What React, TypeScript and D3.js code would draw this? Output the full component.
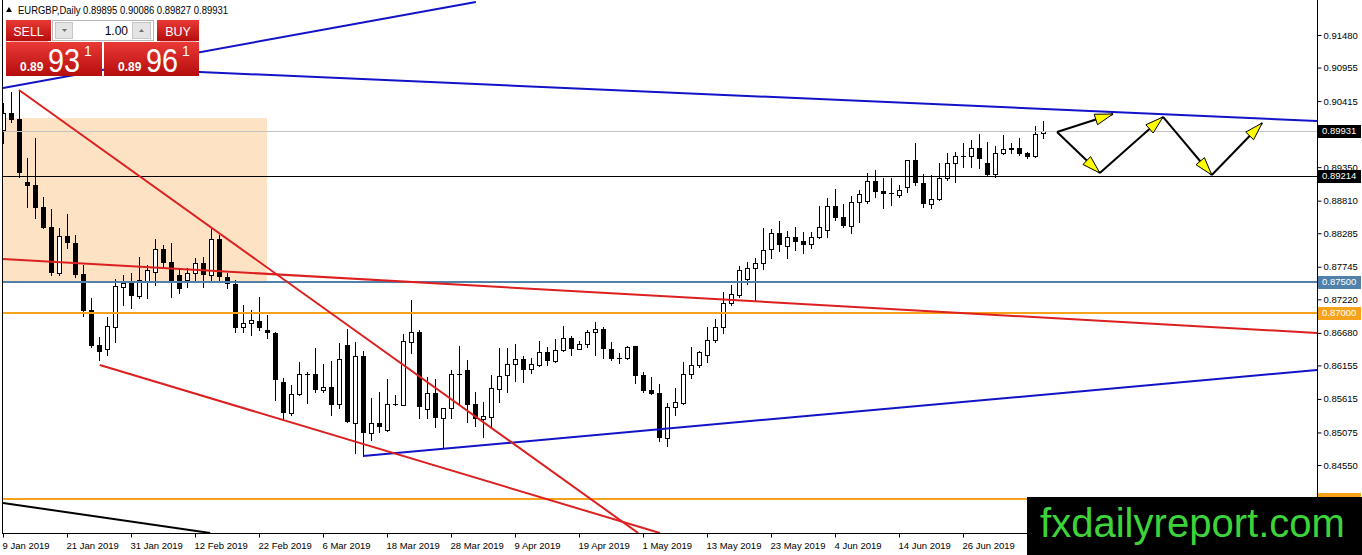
"use client";

import { useRef, useEffect } from "react";
import * as d3 from "d3";

// daily bars, 9 Jan 2019 .. 10 Jul 2019 : [open, high, low, close]
const candles: [number, number, number, number][] = [
  [0.89949, 0.90384, 0.8974, 0.90223],
  [0.90223, 0.90562, 0.90078, 0.9011],
  [0.90126, 0.90594, 0.89191, 0.89256],
  [0.89111, 0.89498, 0.88708, 0.89046],
  [0.89062, 0.8982, 0.88531, 0.88692],
  [0.88708, 0.88869, 0.88365, 0.8837],
  [0.88386, 0.88676, 0.87612, 0.87645],
  [0.87645, 0.8837, 0.87612, 0.8824],
  [0.8824, 0.88596, 0.88047, 0.88128],
  [0.88128, 0.88256, 0.8758, 0.87612],
  [0.87629, 0.87773, 0.86951, 0.87032],
  [0.87048, 0.87241, 0.86452, 0.86468],
  [0.86484, 0.86613, 0.86242, 0.86371],
  [0.8642, 0.86935, 0.86322, 0.8679],
  [0.86774, 0.87548, 0.86533, 0.87435],
  [0.87419, 0.87612, 0.87128, 0.87484],
  [0.875, 0.87645, 0.8708, 0.87273],
  [0.87273, 0.87902, 0.87241, 0.87532],
  [0.87516, 0.87773, 0.87241, 0.87693],
  [0.87661, 0.88192, 0.87451, 0.88031],
  [0.88031, 0.88095, 0.87725, 0.87806],
  [0.87822, 0.88128, 0.87257, 0.875],
  [0.87612, 0.87725, 0.87322, 0.87387],
  [0.87532, 0.87725, 0.87419, 0.87645],
  [0.87645, 0.87886, 0.87532, 0.87806],
  [0.87806, 0.87902, 0.87419, 0.87612],
  [0.87612, 0.88354, 0.87532, 0.88192],
  [0.88192, 0.88256, 0.87532, 0.8758],
  [0.8758, 0.87645, 0.87403, 0.87468],
  [0.87468, 0.87532, 0.86694, 0.86758],
  [0.86774, 0.87128, 0.86694, 0.86839],
  [0.86839, 0.87048, 0.86645, 0.86887],
  [0.86871, 0.87257, 0.86726, 0.86758],
  [0.86726, 0.86967, 0.86597, 0.86677],
  [0.86677, 0.8669, 0.85598, 0.8592],
  [0.85888, 0.85952, 0.85275, 0.85388],
  [0.85388, 0.85839, 0.85355, 0.85695],
  [0.85695, 0.8621, 0.85678, 0.86017],
  [0.86017, 0.86049, 0.8555, 0.86001],
  [0.86017, 0.86436, 0.85727, 0.85759],
  [0.85759, 0.86178, 0.85727, 0.85807],
  [0.85807, 0.86226, 0.85355, 0.85517],
  [0.85534, 0.86516, 0.85469, 0.86258],
  [0.86484, 0.86742, 0.85235, 0.85243],
  [0.85227, 0.86533, 0.84744, 0.86306],
  [0.86306, 0.86387, 0.84695, 0.85066],
  [0.85066, 0.8563, 0.84953, 0.85227],
  [0.85227, 0.85727, 0.85082, 0.85162],
  [0.85114, 0.85936, 0.85105, 0.85534],
  [0.85534, 0.85678, 0.85517, 0.8553],
  [0.85517, 0.86662, 0.8551, 0.86549],
  [0.86533, 0.87209, 0.86355, 0.86694],
  [0.86694, 0.86726, 0.85307, 0.85485],
  [0.85453, 0.85968, 0.85307, 0.85711],
  [0.85711, 0.85936, 0.85162, 0.85307],
  [0.85307, 0.85475, 0.8484, 0.85469],
  [0.85469, 0.86081, 0.85307, 0.86017],
  [0.86017, 0.86468, 0.85517, 0.8602],
  [0.86081, 0.86242, 0.85243, 0.85517],
  [0.85534, 0.85727, 0.85178, 0.85291],
  [0.85291, 0.85566, 0.85001, 0.85339],
  [0.85323, 0.86001, 0.85162, 0.85791],
  [0.85775, 0.86436, 0.85566, 0.85984],
  [0.86001, 0.86436, 0.85727, 0.86178],
  [0.86178, 0.86501, 0.85904, 0.86258],
  [0.86258, 0.86306, 0.85888, 0.86081],
  [0.86097, 0.86274, 0.86033, 0.86178],
  [0.86161, 0.86549, 0.86145, 0.86371],
  [0.86371, 0.86452, 0.86161, 0.86226],
  [0.86226, 0.86581, 0.8621, 0.86403],
  [0.86403, 0.8679, 0.86395, 0.86597],
  [0.86597, 0.86629, 0.86322, 0.8642],
  [0.8642, 0.86549, 0.86412, 0.86501],
  [0.86501, 0.86726, 0.86452, 0.86694],
  [0.86694, 0.86855, 0.86322, 0.86742],
  [0.86742, 0.86774, 0.86274, 0.8642],
  [0.8642, 0.86533, 0.86242, 0.86258],
  [0.86274, 0.86355, 0.86194, 0.8627],
  [0.86274, 0.86468, 0.86265, 0.86452],
  [0.86468, 0.8647, 0.85872, 0.85984],
  [0.86001, 0.86049, 0.85727, 0.85743],
  [0.85759, 0.85968, 0.8569, 0.85695],
  [0.85711, 0.85856, 0.84937, 0.84985],
  [0.84985, 0.8555, 0.84856, 0.85485],
  [0.85485, 0.85791, 0.85355, 0.85566],
  [0.8555, 0.8621, 0.8554, 0.86017],
  [0.86017, 0.86452, 0.85952, 0.86161],
  [0.86161, 0.86387, 0.86129, 0.86371],
  [0.86322, 0.86774, 0.8621, 0.86565],
  [0.86565, 0.86903, 0.86533, 0.86774],
  [0.86774, 0.87338, 0.86677, 0.87161],
  [0.87161, 0.87451, 0.87128, 0.87306],
  [0.87289, 0.87757, 0.87257, 0.87693],
  [0.87548, 0.87822, 0.87468, 0.87725],
  [0.87725, 0.87886, 0.87209, 0.87806],
  [0.87806, 0.8837, 0.87709, 0.88015],
  [0.88031, 0.88354, 0.87886, 0.88289],
  [0.88289, 0.88483, 0.87999, 0.88095],
  [0.88079, 0.88321, 0.87886, 0.88224],
  [0.88224, 0.88386, 0.88015, 0.88144],
  [0.8816, 0.88305, 0.87967, 0.88095],
  [0.88112, 0.88305, 0.88047, 0.88224],
  [0.88224, 0.88724, 0.88215, 0.88386],
  [0.88337, 0.88853, 0.88224, 0.88724],
  [0.88724, 0.88998, 0.88499, 0.88531],
  [0.88547, 0.88756, 0.88386, 0.88402],
  [0.88402, 0.88885, 0.88289, 0.88789],
  [0.88789, 0.88982, 0.88467, 0.88918],
  [0.88805, 0.89256, 0.88772, 0.89127],
  [0.89127, 0.89304, 0.88869, 0.8895],
  [0.88966, 0.89175, 0.88692, 0.88918],
  [0.88934, 0.89175, 0.8874, 0.88918],
  [0.88902, 0.89062, 0.88869, 0.88982],
  [0.8903, 0.8947, 0.8895, 0.89465],
  [0.89465, 0.8974, 0.89062, 0.89095],
  [0.89095, 0.8924, 0.88708, 0.88756],
  [0.88756, 0.89224, 0.88692, 0.88837],
  [0.88837, 0.89417, 0.88821, 0.89175],
  [0.89175, 0.89578, 0.89143, 0.89417],
  [0.89417, 0.89594, 0.89111, 0.8953],
  [0.8953, 0.8974, 0.89352, 0.89535],
  [0.8953, 0.89788, 0.89352, 0.89659],
  [0.89659, 0.89885, 0.89336, 0.89482],
  [0.89417, 0.89756, 0.89207, 0.89224],
  [0.8924, 0.89691, 0.89191, 0.89578],
  [0.89578, 0.89868, 0.8957, 0.89643],
  [0.89659, 0.8974, 0.89578, 0.89627],
  [0.89659, 0.8982, 0.89546, 0.89562],
  [0.89578, 0.89594, 0.89505, 0.89514],
  [0.8953, 0.90013, 0.89514, 0.89885],
  [0.89895, 0.90086, 0.89827, 0.89931],
];

const dateTickBars = [0, 8, 16, 24, 32, 40, 48, 56, 64, 72, 80, 88, 96, 104, 112, 120];
const dateLabels = [
  "9 Jan 2019", "21 Jan 2019", "31 Jan 2019", "12 Feb 2019", "22 Feb 2019",
  "6 Mar 2019", "18 Mar 2019", "28 Mar 2019", "9 Apr 2019", "19 Apr 2019",
  "1 May 2019", "13 May 2019", "23 May 2019", "4 Jun 2019", "14 Jun 2019", "26 Jun 2019",
];

const priceTicks = [
  0.9148, 0.90955, 0.90415, 0.8935, 0.8881, 0.88285, 0.87745,
  0.8722, 0.8668, 0.86155, 0.85615, 0.85075, 0.8455,
];

// horizontal levels
const bidPrice = 0.89931;
const supportLevel = 0.89214;
const blueLevel = 0.875;
const orangeLevels = [0.87, 0.84];

// shaded zone: bar range, price range
const zoneBars = [-1, 33];
const zonePrices = [0.90142, 0.875];

// trend lines: [bar, price] anchors
const blueUpperChannel: [number, number][] = [[0, 0.90626], [59.1, 0.92012]];
const blueResistance: [number, number][] = [[14, 0.90945], [164.25, 0.90094]];
const blueSupport: [number, number][] = [[45, 0.84695], [164.25, 0.86081]];
const redSteep: [number, number][] = [[2, 0.90594], [79.4, 0.83454]];
const redLower: [number, number][] = [[12.1, 0.86162], [82.1, 0.83454]];
const redLong: [number, number][] = [[0, 0.8787], [164.25, 0.86678]];
const blackBottom: [number, number][] = [[0, 0.83938], [25.9, 0.83454]];

// forecast arrows
const forecastZigzag: [number, number][] = [
  [131.75, 0.89917], [137.1, 0.89256], [145, 0.90159], [151.1, 0.89224], [157.4, 0.90062],
];
const forecastBreakout: [number, number][] = [[131.75, 0.89917], [138.75, 0.90207]];

export default function App() {
  const svgRef = useRef<SVGSVGElement>(null);

  useEffect(() => {
    document.body.style.margin = "0";
    if (!svgRef.current) return;

    const svg = d3.select(svgRef.current);
    svg.selectAll("*").remove();

    const width = 1362;
    const height = 555;
    const plot = { left: 3, right: 1317, top: 0, bottom: 533 };
    const font = "'Liberation Sans', Arial, sans-serif";

    svg.attr("width", width).attr("height", height).attr("viewBox", `0 0 ${width} ${height}`);

    const x = d3.scaleLinear().domain([0, 164.25]).range([plot.left, plot.right]);
    const y = d3.scaleLinear().domain([0.9148, 0.8455]).range([35, 465]);

    svg.append("rect").attr("width", width).attr("height", height).attr("fill", "#ffffff");

    const defs = svg.append("defs");
    defs
      .append("clipPath")
      .attr("id", "plot-clip")
      .append("rect")
      .attr("x", plot.left)
      .attr("y", plot.top)
      .attr("width", plot.right - plot.left)
      .attr("height", plot.bottom - plot.top);
    const grad = defs
      .append("linearGradient")
      .attr("id", "red-btn")
      .attr("x1", 0)
      .attr("y1", 0)
      .attr("x2", 0)
      .attr("y2", 1);
    grad.append("stop").attr("offset", "0%").attr("stop-color", "#ea3a36");
    grad.append("stop").attr("offset", "100%").attr("stop-color", "#b50d0d");

    const g = svg.append("g").attr("clip-path", "url(#plot-clip)");

    // Zone
    g.append("rect")
      .attr("x", x(zoneBars[0]))
      .attr("y", y(zonePrices[0]))
      .attr("width", x(zoneBars[1]) - x(zoneBars[0]))
      .attr("height", y(zonePrices[1]) - y(zonePrices[0]))
      .attr("fill", "#fde2c4");

    // Candles
    const cg = g.append("g").attr("shape-rendering", "crispEdges");
    cg.selectAll("line")
      .data(candles)
      .join("line")
      .attr("x1", (_, i) => x(i) + 0.5)
      .attr("x2", (_, i) => x(i) + 0.5)
      .attr("y1", (d) => Math.round(y(d[1])))
      .attr("y2", (d) => Math.round(y(d[2])) + 1)
      .attr("stroke", "#000");

    cg.selectAll("rect")
      .data(candles)
      .join("rect")
      .each(function (d, i) {
        const up = d[3] >= d[0];
        const top = Math.round(y(Math.max(d[0], d[3])));
        const bot = Math.round(y(Math.min(d[0], d[3])));
        const r = d3.select(this);
        if (up) {
          r.attr("x", x(i) - 1.5)
            .attr("y", top + 0.5)
            .attr("width", 4)
            .attr("height", Math.max(bot - top, 0.01))
            .attr("fill", "#ffffff")
            .attr("stroke", "#000");
        } else {
          r.attr("x", x(i) - 2)
            .attr("y", top)
            .attr("width", 5)
            .attr("height", Math.max(bot - top, 1))
            .attr("fill", "#000");
        }
      });

    // Horizontal levels
    const hline = (price: number, color: string, w: number) =>
      g.append("line")
        .attr("x1", plot.left)
        .attr("x2", plot.right)
        .attr("y1", Math.round(y(price)) + (w % 2 ? 0.5 : 0))
        .attr("y2", Math.round(y(price)) + (w % 2 ? 0.5 : 0))
        .attr("stroke", color)
        .attr("stroke-width", w);

    hline(bidPrice, "#c3c3c3", 1);
    hline(supportLevel, "#000000", 1);
    hline(blueLevel, "#4f81aa", 2);
    orangeLevels.forEach((p) => hline(p, "#f7a21b", 2));

    // Trend lines
    const trend = (pts: [number, number][], color: string) =>
      g.append("line")
        .attr("x1", x(pts[0][0]))
        .attr("y1", y(pts[0][1]))
        .attr("x2", x(pts[1][0]))
        .attr("y2", y(pts[1][1]))
        .attr("stroke", color)
        .attr("stroke-width", 2);

    trend(blueUpperChannel, "#1212c8");
    trend(blueResistance, "#1212c8");
    trend(blueSupport, "#1212c8");
    trend(redLong, "#dc1f1f");
    trend(redSteep, "#dc1f1f");
    trend(redLower, "#dc1f1f");
    trend(blackBottom, "#000000");

    // Forecast arrows
    const arrow = (a: [number, number], b: [number, number]) => {
      const x1 = x(a[0]);
      const y1 = y(a[1]);
      const x2 = x(b[0]);
      const y2 = y(b[1]);
      g.append("line")
        .attr("x1", x1)
        .attr("y1", y1)
        .attr("x2", x2)
        .attr("y2", y2)
        .attr("stroke", "#000")
        .attr("stroke-width", 2);
      const ang = Math.atan2(y2 - y1, x2 - x1);
      const len = 18;
      const hw = 5.5;
      const bx = x2 - len * Math.cos(ang);
      const by = y2 - len * Math.sin(ang);
      const px = -Math.sin(ang) * hw;
      const py = Math.cos(ang) * hw;
      g.append("polygon")
        .attr("points", `${x2},${y2} ${bx + px},${by + py} ${bx - px},${by - py}`)
        .attr("fill", "#ffff00")
        .attr("stroke", "#000")
        .attr("stroke-width", 1);
    };
    d3.pairs(forecastZigzag).forEach(([a, b]) => arrow(a, b));
    arrow(forecastBreakout[0], forecastBreakout[1]);

    // Frame
    const frame = svg.append("g").attr("stroke", "#000").attr("shape-rendering", "crispEdges");
    frame.append("line").attr("x1", plot.right + 0.5).attr("x2", plot.right + 0.5).attr("y1", 0).attr("y2", plot.bottom + 1);
    frame.append("line").attr("x1", plot.left - 0.5).attr("x2", plot.left - 0.5).attr("y1", 0).attr("y2", plot.bottom + 1);
    frame.append("line").attr("x1", plot.left - 1).attr("x2", plot.right + 1).attr("y1", plot.bottom + 0.5).attr("y2", plot.bottom + 0.5);

    // Price axis
    const axisR = svg
      .append("g")
      .attr("transform", `translate(${plot.right + 0.5},0)`)
      .call(d3.axisRight(y).tickValues(priceTicks).tickSize(4).tickPadding(2).tickFormat(d3.format(".5f")));
    axisR.select(".domain").remove();
    axisR.selectAll("line").attr("stroke", "#000");
    axisR.selectAll("text").attr("font-family", font).attr("font-size", 9.5).attr("fill", "#000");

    // Price tags (the lowest one sits under the watermark, only its box peeks out)
    const tags: [number, string, boolean][] = [
      [bidPrice, "#000000", true],
      [supportLevel, "#000000", true],
      [blueLevel, "#4f81aa", true],
      [orangeLevels[0], "#f7a21b", true],
      [orangeLevels[1], "#f7a21b", false],
    ];
    const tg = svg.append("g");
    tags.forEach(([p, c, showText]) => {
      const cy = y(p);
      tg.append("rect")
        .attr("x", plot.right + 1)
        .attr("y", Math.round(cy) - 6)
        .attr("width", 43)
        .attr("height", 13)
        .attr("fill", c);
      if (!showText) return;
      tg.append("text")
        .attr("x", plot.right + 5)
        .attr("y", cy)
        .attr("dy", "0.35em")
        .attr("font-family", font)
        .attr("font-size", 9.5)
        .attr("fill", "#ffffff")
        .text(d3.format(".5f")(p));
    });

    // Time axis
    const axisB = svg
      .append("g")
      .attr("transform", `translate(0,${plot.bottom + 0.5})`)
      .call(
        d3.axisBottom(x)
          .tickValues(dateTickBars)
          .tickSize(4)
          .tickPadding(5)
          .tickFormat((_, i) => dateLabels[i])
      );
    axisB.select(".domain").remove();
    axisB.selectAll("line").attr("stroke", "#000");
    axisB.selectAll("text")
      .attr("text-anchor", "start")
      .attr("x", -1)
      .attr("font-family", font)
      .attr("font-size", 9.5)
      .attr("fill", "#000");

    // Header
    const last = candles[candles.length - 1];
    const f5 = d3.format(".5f");
    svg.append("polygon").attr("points", "6,12 12,12 9,7").attr("fill", "#000");
    svg.append("text")
      .attr("x", 18)
      .attr("y", 14)
      .attr("font-family", font)
      .attr("font-size", 10)
      .attr("fill", "#000")
      .attr("textLength", 210)
      .attr("lengthAdjust", "spacingAndGlyphs")
      .text(`EURGBP,Daily ${f5(last[0])} ${f5(last[1])} ${f5(last[2])} ${f5(last[3])}`);

    // One-click trading panel
    const panel = svg.append("g").attr("font-family", font);
    panel.append("rect").attr("x", 6).attr("y", 20).attr("width", 45).attr("height", 21).attr("fill", "url(#red-btn)");
    panel.append("rect").attr("x", 157).attr("y", 20).attr("width", 42).attr("height", 21).attr("fill", "url(#red-btn)");
    panel.append("rect").attr("x", 6).attr("y", 42).attr("width", 96).attr("height", 34).attr("fill", "url(#red-btn)");
    panel.append("rect").attr("x", 104).attr("y", 42).attr("width", 95).attr("height", 34).attr("fill", "url(#red-btn)");
    panel.append("line").attr("x1", 10).attr("x2", 48).attr("y1", 41.5).attr("y2", 41.5).attr("stroke", "#f3b0b0");
    panel.append("line").attr("x1", 160).attr("x2", 196).attr("y1", 41.5).attr("y2", 41.5).attr("stroke", "#f3b0b0");
    panel.append("text").attr("x", 28.5).attr("y", 35.5).attr("text-anchor", "middle").attr("font-size", 12.5).attr("fill", "#fff").text("SELL");
    panel.append("text").attr("x", 178).attr("y", 35.5).attr("text-anchor", "middle").attr("font-size", 12.5).attr("fill", "#fff").text("BUY");

    panel.append("rect").attr("x", 52.5).attr("y", 20.5).attr("width", 101).attr("height", 20).attr("fill", "#ffffff").attr("stroke", "#b8b8b8");
    panel.append("rect").attr("x", 55.5).attr("y", 22.5).attr("width", 17).attr("height", 16).attr("fill", "#e4e4e4").attr("stroke", "#c6c6c6");
    panel.append("rect").attr("x", 132.5).attr("y", 22.5).attr("width", 18).attr("height", 16).attr("fill", "#e4e4e4").attr("stroke", "#c6c6c6");
    panel.append("polygon").attr("points", "62,29 67,29 64.5,32").attr("fill", "#707070");
    panel.append("polygon").attr("points", "139,32 144,32 141.5,29").attr("fill", "#707070");
    panel.append("text").attr("x", 128).attr("y", 35).attr("text-anchor", "end").attr("font-size", 12).attr("fill", "#000").text("1.00");

    const priceBox = (x0: number, big: string) => {
      panel.append("text").attr("x", x0).attr("y", 71).attr("font-size", 12).attr("font-weight", "bold").attr("fill", "#fff").text("0.89");
      panel.append("text").attr("x", x0 + 28).attr("y", 72).attr("font-size", 33).attr("fill", "#fff").attr("textLength", 32).attr("lengthAdjust", "spacingAndGlyphs").text(big);
      panel.append("text").attr("x", x0 + 64).attr("y", 56).attr("font-size", 14).attr("fill", "#fff").text("1");
    };
    priceBox(20, "93");
    priceBox(118, "96");

    // Watermark
    svg.append("rect").attr("x", 1027).attr("y", 497).attr("width", 335).attr("height", 58).attr("fill", "#000");
    svg.append("text")
      .attr("x", 1040)
      .attr("y", 537)
      .attr("font-family", font)
      .attr("font-size", 41)
      .attr("fill", "#3dd43a")
      .attr("textLength", 305)
      .attr("lengthAdjust", "spacingAndGlyphs")
      .text("fxdailyreport.com");
  }, []);

  return (
    <div style={{ width: 1362, height: 555 }}>
      <svg ref={svgRef} style={{ display: "block" }} />
    </div>
  );
}
